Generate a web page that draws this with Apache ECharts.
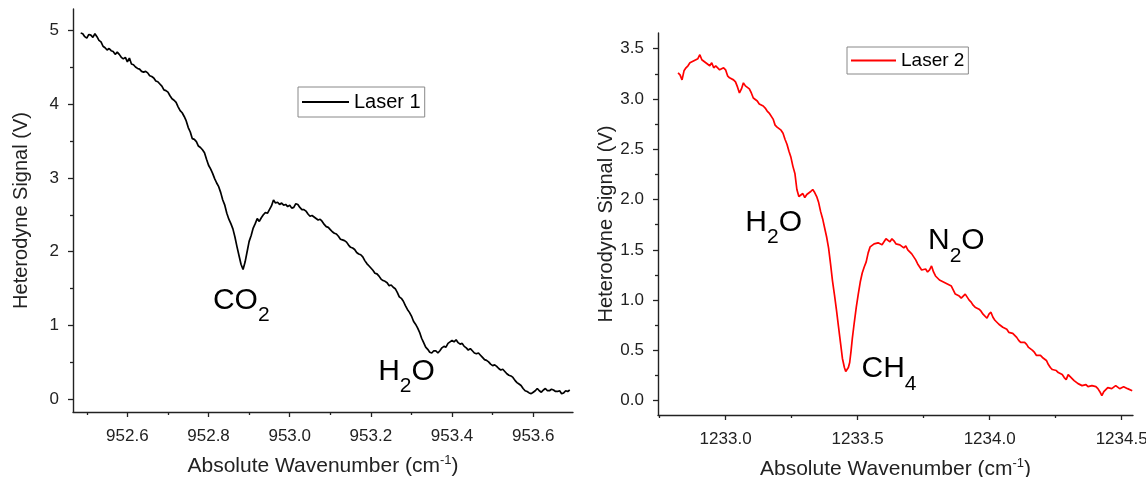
<!DOCTYPE html>
<html>
<head>
<meta charset="utf-8">
<script src="https://cdn.jsdelivr.net/npm/echarts@6/dist/echarts.min.js"></script>
<style>
html,body{margin:0;padding:0;background:#fff;}
#chart{width:1146px;height:477px;}
</style>
</head>
<body>
<div id="chart"></div>
<script>
// ---------- DATA ----------
const wavenumber1 = [952.485,952.49,952.495,952.50,952.505,952.51,952.515,952.52,952.525,952.53,952.535,952.54,952.545,952.55,952.555,952.56,952.565,952.57,952.575,952.58,952.585,952.59,952.595,952.60,952.605,952.61,952.615,952.62,952.625,952.63,952.635,952.64,952.645,952.65,952.655,952.66,952.665,952.67,952.675,952.68,952.685,952.69,952.695,952.70,952.705,952.71,952.715,952.72,952.725,952.73,952.735,952.74,952.745,952.75,952.755,952.76,952.765,952.77,952.775,952.78,952.785,952.79,952.795,952.80,952.805,952.81,952.815,952.82,952.825,952.83,952.835,952.84,952.845,952.85,952.855,952.86,952.865,952.87,952.875,952.88,952.885,952.89,952.895,952.90,952.905,952.91,952.915,952.92,952.925,952.93,952.935,952.94,952.945,952.95,952.955,952.96,952.965,952.97,952.975,952.98,952.985,952.99,952.995,953.00,953.005,953.01,953.015,953.02,953.025,953.03,953.035,953.04,953.045,953.05,953.055,953.06,953.065,953.07,953.075,953.08,953.085,953.09,953.095,953.10,953.105,953.11,953.115,953.12,953.125,953.13,953.135,953.14,953.145,953.15,953.155,953.16,953.165,953.17,953.175,953.18,953.185,953.19,953.195,953.20,953.205,953.21,953.215,953.22,953.225,953.23,953.235,953.24,953.245,953.25,953.255,953.26,953.265,953.27,953.275,953.28,953.285,953.29,953.295,953.30,953.305,953.31,953.315,953.32,953.325,953.33,953.335,953.34,953.345,953.35,953.355,953.36,953.365,953.37,953.375,953.38,953.385,953.39,953.395,953.40,953.405,953.41,953.415,953.42,953.425,953.43,953.435,953.44,953.445,953.45,953.455,953.46,953.465,953.47,953.475,953.48,953.485,953.49,953.495,953.50,953.505,953.51,953.515,953.52,953.525,953.53,953.535,953.54,953.545,953.55,953.555,953.56,953.565,953.57,953.575,953.58,953.585,953.59,953.595,953.60,953.605,953.61,953.615,953.62,953.625,953.63,953.635,953.64,953.645,953.65,953.655,953.66,953.665,953.67,953.675,953.68,953.685,953.69];
const signal1 = [4.96,4.95,4.91,4.89,4.94,4.93,4.90,4.95,4.91,4.86,4.84,4.78,4.76,4.73,4.75,4.72,4.71,4.67,4.70,4.67,4.63,4.61,4.63,4.57,4.62,4.54,4.53,4.50,4.48,4.47,4.44,4.43,4.44,4.42,4.38,4.37,4.35,4.31,4.30,4.27,4.24,4.19,4.18,4.16,4.11,4.07,4.05,4.02,3.96,3.91,3.88,3.83,3.77,3.68,3.62,3.53,3.52,3.49,3.43,3.41,3.38,3.34,3.25,3.17,3.12,3.06,2.99,2.93,2.88,2.80,2.70,2.63,2.52,2.44,2.38,2.31,2.20,2.07,1.95,1.83,1.76,1.86,2.00,2.14,2.22,2.32,2.38,2.45,2.41,2.46,2.50,2.53,2.52,2.57,2.62,2.70,2.66,2.67,2.64,2.66,2.63,2.64,2.61,2.63,2.59,2.60,2.65,2.64,2.60,2.57,2.57,2.55,2.51,2.48,2.49,2.47,2.45,2.43,2.44,2.41,2.37,2.34,2.33,2.30,2.27,2.25,2.24,2.21,2.17,2.16,2.15,2.13,2.09,2.06,2.05,2.03,1.99,1.97,1.96,1.93,1.88,1.84,1.81,1.78,1.75,1.71,1.70,1.67,1.63,1.61,1.60,1.58,1.54,1.55,1.52,1.50,1.45,1.39,1.37,1.33,1.27,1.22,1.18,1.13,1.06,1.02,0.97,0.91,0.83,0.77,0.71,0.68,0.64,0.63,0.66,0.66,0.63,0.66,0.70,0.72,0.71,0.76,0.78,0.80,0.78,0.81,0.77,0.75,0.76,0.72,0.70,0.67,0.69,0.66,0.63,0.62,0.63,0.60,0.57,0.54,0.53,0.51,0.48,0.46,0.47,0.45,0.42,0.40,0.41,0.38,0.35,0.33,0.32,0.30,0.26,0.23,0.21,0.19,0.15,0.12,0.11,0.09,0.08,0.10,0.12,0.15,0.12,0.10,0.13,0.15,0.12,0.12,0.14,0.13,0.11,0.11,0.12,0.08,0.09,0.12,0.11,0.13];

const wavenumber2 = [1232.820,1232.8275,1232.835,1232.8425,1232.850,1232.8575,1232.865,1232.8725,1232.880,1232.8875,1232.895,1232.9025,1232.910,1232.9175,1232.925,1232.9325,1232.940,1232.9475,1232.955,1232.9625,1232.970,1232.9775,1232.985,1232.9925,1233.000,1233.0075,1233.015,1233.0225,1233.030,1233.0375,1233.045,1233.0525,1233.060,1233.0675,1233.075,1233.0825,1233.090,1233.0975,1233.105,1233.1125,1233.120,1233.1275,1233.135,1233.1425,1233.150,1233.1575,1233.165,1233.1725,1233.180,1233.1875,1233.195,1233.2025,1233.210,1233.2175,1233.225,1233.2325,1233.240,1233.2475,1233.255,1233.2625,1233.270,1233.2775,1233.285,1233.2925,1233.300,1233.3075,1233.315,1233.3225,1233.330,1233.3375,1233.345,1233.3525,1233.360,1233.3675,1233.375,1233.3825,1233.390,1233.3975,1233.405,1233.4125,1233.420,1233.4275,1233.435,1233.4425,1233.450,1233.455,1233.460,1233.465,1233.470,1233.475,1233.480,1233.4875,1233.495,1233.5025,1233.510,1233.5175,1233.525,1233.5325,1233.540,1233.5475,1233.555,1233.5625,1233.570,1233.5775,1233.585,1233.5925,1233.600,1233.6075,1233.615,1233.6225,1233.630,1233.6375,1233.645,1233.6525,1233.660,1233.6675,1233.675,1233.6825,1233.690,1233.6975,1233.705,1233.7125,1233.720,1233.7275,1233.735,1233.7425,1233.750,1233.7575,1233.765,1233.7725,1233.780,1233.7875,1233.795,1233.8025,1233.810,1233.8175,1233.825,1233.8325,1233.840,1233.8475,1233.855,1233.8625,1233.870,1233.8775,1233.885,1233.8925,1233.900,1233.9075,1233.915,1233.9225,1233.930,1233.9375,1233.945,1233.9525,1233.960,1233.9675,1233.975,1233.9825,1233.990,1233.9975,1234.005,1234.0125,1234.020,1234.0275,1234.035,1234.0425,1234.050,1234.0575,1234.065,1234.0725,1234.080,1234.0875,1234.095,1234.1025,1234.110,1234.1175,1234.125,1234.1325,1234.140,1234.1475,1234.155,1234.1625,1234.170,1234.1775,1234.185,1234.1925,1234.200,1234.2075,1234.215,1234.2225,1234.230,1234.2375,1234.245,1234.2525,1234.260,1234.2675,1234.275,1234.2825,1234.290,1234.2975,1234.305,1234.3125,1234.320,1234.3275,1234.335,1234.3425,1234.350,1234.3575,1234.365,1234.3725,1234.380,1234.3875,1234.395,1234.4025,1234.410,1234.4175,1234.425,1234.4325,1234.440,1234.4475,1234.455,1234.4625,1234.470,1234.4775,1234.485,1234.4925,1234.500,1234.5075,1234.515,1234.5225,1234.530,1234.540];
const signal2 = [3.26,3.24,3.19,3.28,3.31,3.33,3.36,3.35,3.38,3.37,3.40,3.44,3.39,3.38,3.36,3.37,3.33,3.36,3.31,3.33,3.32,3.29,3.28,3.31,3.29,3.23,3.21,3.22,3.19,3.17,3.12,3.06,3.10,3.16,3.13,3.14,3.10,3.06,3.01,3.00,2.98,2.95,2.94,2.93,2.91,2.88,2.86,2.85,2.80,2.74,2.72,2.71,2.69,2.66,2.60,2.55,2.48,2.42,2.33,2.26,2.10,2.03,2.02,2.06,2.02,2.05,2.06,2.08,2.10,2.07,2.03,1.97,1.88,1.81,1.72,1.63,1.52,1.36,1.19,1.05,0.90,0.74,0.58,0.42,0.33,0.29,0.30,0.33,0.38,0.49,0.62,0.78,0.93,1.06,1.18,1.27,1.33,1.38,1.47,1.53,1.53,1.56,1.55,1.57,1.57,1.55,1.58,1.61,1.60,1.58,1.61,1.59,1.56,1.57,1.55,1.54,1.52,1.54,1.50,1.49,1.46,1.43,1.40,1.36,1.33,1.30,1.30,1.31,1.28,1.30,1.34,1.28,1.24,1.22,1.20,1.21,1.18,1.17,1.16,1.17,1.14,1.10,1.06,1.05,1.04,1.02,1.02,1.06,1.05,1.00,0.98,0.95,0.93,0.94,0.91,0.89,0.86,0.85,0.82,0.86,0.88,0.83,0.80,0.78,0.76,0.75,0.73,0.72,0.71,0.68,0.69,0.67,0.66,0.63,0.60,0.58,0.57,0.58,0.56,0.53,0.52,0.50,0.48,0.45,0.44,0.45,0.43,0.42,0.40,0.36,0.33,0.31,0.30,0.30,0.28,0.28,0.26,0.23,0.21,0.26,0.24,0.23,0.20,0.19,0.17,0.18,0.15,0.16,0.16,0.14,0.13,0.15,0.14,0.14,0.12,0.09,0.05,0.09,0.11,0.13,0.14,0.12,0.12,0.15,0.14,0.12,0.12,0.14,0.13,0.12,0.11,0.10];

const xTicks1 = [952.6,952.8,953.0,953.2,953.4,953.6];
const xMinor1 = [952.5,952.7,952.9,953.1,953.3,953.5];
const yTicks1 = [0,1,2,3,4,5];
const yMinor1 = [0.5,1.5,2.5,3.5,4.5];
const xTicks2 = [1233.0,1233.5,1234.0,1234.5];
const xMinor2 = [1232.75,1233.25,1233.75,1234.25];
const yTicks2 = [0,0.5,1.0,1.5,2.0,2.5,3.0,3.5];
const yMinor2 = [0.25,0.75,1.25,1.75,2.25,2.75,3.25];

// annotations: [rich text, x, y]
const notes1 = [['{b|CO}{s|2}', 952.8806, 1.344], ['{b|H}{s|2}{b|O}', 953.2877, 0.383]];
const notes2 = [['{b|H}{s|2}{b|O}', 1233.182, 1.774], ['{b|CH}{s|4}', 1233.619, 0.316], ['{b|N}{s|2}{b|O}', 1233.874, 1.589]];

// ---------- CHART ----------
const FONT = "'Liberation Sans', Arial, sans-serif";
const AX = '#222';
const chart = echarts.init(document.getElementById('chart'));

function mainX(gi, min, max, ticks, fmt) {
  return {
    type: 'value', gridIndex: gi, min: min, max: max,
    name: '{a|Absolute Wavenumber (cm}{s|-1}{a|)}',
    nameLocation: 'middle', nameGap: 41,
    nameTextStyle: { rich: {
      a: { fontSize: 21, fontFamily: FONT, color: AX, lineHeight: 24, verticalAlign: 'bottom' },
      s: { fontSize: 13, fontFamily: FONT, color: AX, lineHeight: 24, verticalAlign: 'bottom', padding: [0, 0, 10, 0] }
    }},
    axisLine: { show: true, onZero: false, lineStyle: { color: AX, width: 1.4 } },
    axisTick: { show: true, length: 5, lineStyle: { color: AX, width: 1.3 }, customValues: ticks },
    axisLabel: { show: true, margin: 16, fontSize: 17, fontFamily: FONT, color: AX, customValues: ticks, formatter: fmt },
    splitLine: { show: false }
  };
}
function minorAx(gi, min, max, vals, pos) {
  return {
    type: 'value', gridIndex: gi, min: min, max: max, position: pos,
    axisLine: { show: false, onZero: false },
    axisTick: { show: true, length: 3, lineStyle: { color: AX, width: 1.3 }, customValues: vals },
    axisLabel: { show: false },
    splitLine: { show: false }
  };
}
function mainY(gi, min, max, ticks, fmt, gap) {
  return {
    type: 'value', gridIndex: gi, min: min, max: max,
    name: 'Heterodyne Signal (V)', nameLocation: 'middle', nameGap: gap,
    nameTextStyle: { fontSize: 20, fontFamily: FONT, color: AX },
    axisLine: { show: true, onZero: false, lineStyle: { color: AX, width: 1.4 } },
    axisTick: { show: true, length: 5, lineStyle: { color: AX, width: 1.3 }, customValues: ticks },
    axisLabel: { show: true, margin: 14, fontSize: 17, fontFamily: FONT, color: AX, customValues: ticks, formatter: fmt },
    splitLine: { show: false }
  };
}
function notesMark(notes) {
  return {
    symbol: 'circle', symbolSize: 0, silent: true,
    itemStyle: { color: 'rgba(0,0,0,0)' },
    label: {
      show: true, position: 'inside', offset: [0, 0],
      formatter: function (p) { return p.name; },
      rich: {
        b: { fontSize: 30, fontFamily: FONT, color: '#000', lineHeight: 36 },
        s: { fontSize: 21, fontFamily: FONT, color: '#000', lineHeight: 22, padding: [30, 0, 0, 0] }
      }
    },
    data: notes.map(n => ({ name: n[0], coord: [n[1], n[2]] }))
  };
}

const option = {
  backgroundColor: '#fff',
  animation: false,
  grid: [
    { left: 73, top: 9, width: 500, height: 403, outerBoundsMode: 'none', containLabel: false },
    { left: 658, top: 33, width: 475, height: 382, outerBoundsMode: 'none', containLabel: false }
  ],
  legend: [
    { data: [{ name: 'Laser 1', icon: 'rect' }], left: 298, top: 87, orient: 'horizontal',
      itemWidth: 47, itemHeight: 2, itemGap: 5, padding: [4, 4, 4, 4],
      borderColor: '#888', borderWidth: 1, backgroundColor: '#fff',
      textStyle: { fontSize: 20, fontFamily: FONT, color: '#000', lineHeight: 22 } },
    { data: [{ name: 'Laser 2', icon: 'rect' }], left: 847, top: 47, orient: 'horizontal',
      itemWidth: 45, itemHeight: 2, itemGap: 5, padding: [3, 4, 3, 4],
      borderColor: '#888', borderWidth: 1, backgroundColor: '#fff',
      textStyle: { fontSize: 19, fontFamily: FONT, color: '#000', lineHeight: 21 } }
  ],
  xAxis: [
    mainX(0, 952.466, 953.698, xTicks1, v => v.toFixed(1)),
    minorAx(0, 952.466, 953.698, xMinor1, 'bottom'),
    mainX(1, 1232.744, 1234.543, xTicks2, v => v.toFixed(1)),
    minorAx(1, 1232.744, 1234.543, xMinor2, 'bottom')
  ],
  yAxis: [
    mainY(0, -0.168, 5.284, yTicks1, v => String(Math.round(v)), 42),
    minorAx(0, -0.168, 5.284, yMinor1, 'left'),
    mainY(1, -0.142, 3.656, yTicks2, v => v.toFixed(1), 42),
    minorAx(1, -0.142, 3.656, yMinor2, 'left')
  ],
  series: [
    { name: 'Laser 1', type: 'line', xAxisIndex: 0, yAxisIndex: 0,
      data: wavenumber1.map((x, i) => [x, signal1[i]]),
      showSymbol: false, symbol: 'none', lineStyle: { color: '#000', width: 1.7 }, itemStyle: { color: '#000' },
      markPoint: notesMark(notes1) },
    { name: 'Laser 2', type: 'line', xAxisIndex: 2, yAxisIndex: 2,
      data: wavenumber2.map((x, i) => [x, signal2[i]]),
      showSymbol: false, symbol: 'none', lineStyle: { color: '#ff0000', width: 1.7 }, itemStyle: { color: '#ff0000' },
      markPoint: notesMark(notes2) }
  ]
};
chart.setOption(option);
</script>
</body>
</html>
